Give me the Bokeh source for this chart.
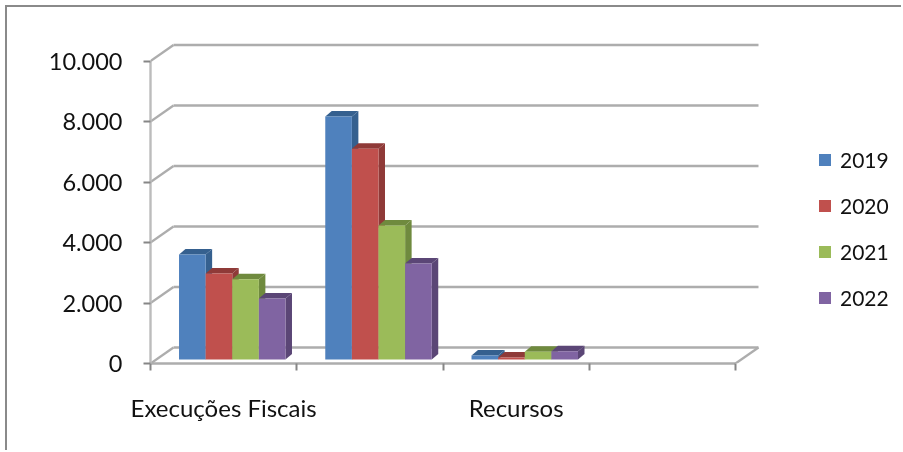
from bokeh.plotting import figure
from bokeh.embed import file_html
from bokeh.resources import INLINE
from bokeh.models import Range1d, FixedTicker, Legend, LegendItem

categories = ["Execuções Fiscais", "", "Recursos", ""]
years = ["2019", "2020", "2021", "2022"]
v2019 = [3470, 8030, 130]
v2020 = [2840, 6970, 70]
v2021 = [2650, 4430, 260]
v2022 = [2020, 3170, 270]
y_ticks = [0, 2000, 4000, 6000, 8000, 10000]
y_tick_labels = ["0", "2.000", "4.000", "6.000", "8.000", "10.000"]
front_colors = ["#4f81bd", "#c0504d", "#9bbb59", "#8064a2"]
dark_colors = ["#35608f", "#8f3a38", "#6f8a3e", "#5b4676"]

# pixel geometry of the picture
PX_CAT = 146.25
PX_VAL = 30.25 / 1000
LEFT, FLOOR, W, H = 150, 363, 903, 452
EDGE = 7  # canvas starts just inside the chart's grey border
def dx(px): return px / PX_CAT
def dy(px): return px / PX_VAL

p = figure(width=W - EDGE, height=H - EDGE, output_backend="svg", toolbar_location=None,
           x_range=Range1d(0, (W - LEFT) / PX_CAT),
           y_range=Range1d(0, (FLOOR - EDGE) / PX_VAL),
           min_border_left=LEFT - EDGE, min_border_right=0,
           min_border_top=0, min_border_bottom=H - FLOOR,
           margin=(5, 0, 0, 5), outline_line_color=None,
           background_fill_color="white", border_fill_color="white",
           styles={"filter": "blur(0.6px)",
                   "border-left": "2px solid #8a8a8a",
                   "border-top": "2px solid #8a8a8a"})
p.grid.visible = False

GRID = "#adadad"
n = len(categories)
xs0 = [dx(23)] * len(y_ticks)
xs1 = [n + dx(23)] * len(y_ticks)
ys = [t + dy(16) for t in y_ticks]
p.segment(xs0, ys, xs1, ys, line_color=GRID, line_width=2.4)
p.segment([0] * len(y_ticks), y_ticks, xs0, ys, line_color=GRID, line_width=2.4)
p.segment([n], [0], [n + dx(23)], [dy(16)], line_color=GRID, line_width=2.4)

# bars, left to right per series
BAR_W, GAP = 0.182, 0.195
BASE, DX, DY = dy(4), dx(6.5), dy(5.5)
legend_items = []
for s, vals in enumerate([v2019, v2020, v2021, v2022]):
    left = [i + GAP + s * BAR_W for i in range(len(vals))]
    right = [l + BAR_W for l in left]
    tops = [v + BASE for v in vals]
    top_x = [[l, l + DX, r + DX, r] for l, r in zip(left, right)]
    top_y = [[t, t + DY, t + DY, t] for t in tops]
    side_x = [[r, r + DX, r + DX, r] for r in right]
    side_y = [[BASE, BASE + DY, t + DY, t] for t in tops]
    p.patches(top_x, top_y, fill_color=dark_colors[s], line_color=None)
    p.patches(side_x, side_y, fill_color=dark_colors[s], line_color=None)
    q = p.quad(left=left, right=right, bottom=[BASE] * len(vals), top=tops,
               fill_color=front_colors[s], line_color=None)
    legend_items.append(LegendItem(label=years[s], renderers=[q]))

# axes
ya = p.yaxis[0]
ya.ticker = FixedTicker(ticks=y_ticks)
ya.major_label_overrides = dict(zip(y_ticks, y_tick_labels))
ya.bounds = (0, 10000)
ya.axis_line_color = "#bcbcbc"
ya.axis_line_width = 2.4
ya.major_tick_line_color = "#868686"
ya.major_tick_line_width = 2
ya.major_tick_out = 7
ya.major_tick_in = 0
ya.minor_tick_line_color = None
ya.major_label_standoff = 21
ya.major_label_text_font = "Lato"
ya.major_label_text_font_size = "23.5px"
ya.major_label_text_color = "#111111"

xa = p.xaxis[0]
label_pos = [i + 0.5 for i, c in enumerate(categories) if c]
xa.ticker = FixedTicker(ticks=label_pos, minor_ticks=list(range(n + 1)))
xa.major_label_overrides = {i + 0.5: c for i, c in enumerate(categories) if c}
xa.bounds = (0, n)
xa.axis_line_color = GRID
xa.axis_line_width = 2.4
xa.major_tick_line_color = None
xa.major_tick_out = 0
xa.major_tick_in = 0
xa.minor_tick_line_color = "#868686"
xa.minor_tick_line_width = 2
xa.minor_tick_out = 7
xa.minor_tick_in = 0
xa.major_label_standoff = 22
xa.major_label_text_font = "Lato"
xa.major_label_text_font_size = "24px"
xa.major_label_text_color = "#111111"

legend = Legend(items=legend_items, location=(667, 53), orientation="vertical",
                glyph_width=15, glyph_height=15, spacing=21, padding=0, margin=0,
                label_standoff=8, label_text_font="Lato",
                label_text_font_size="21px", label_text_color="#111111",
                border_line_color=None, background_fill_color=None)
p.add_layout(legend, "center")

open("out.html", "w").write(file_html(p, INLINE))
